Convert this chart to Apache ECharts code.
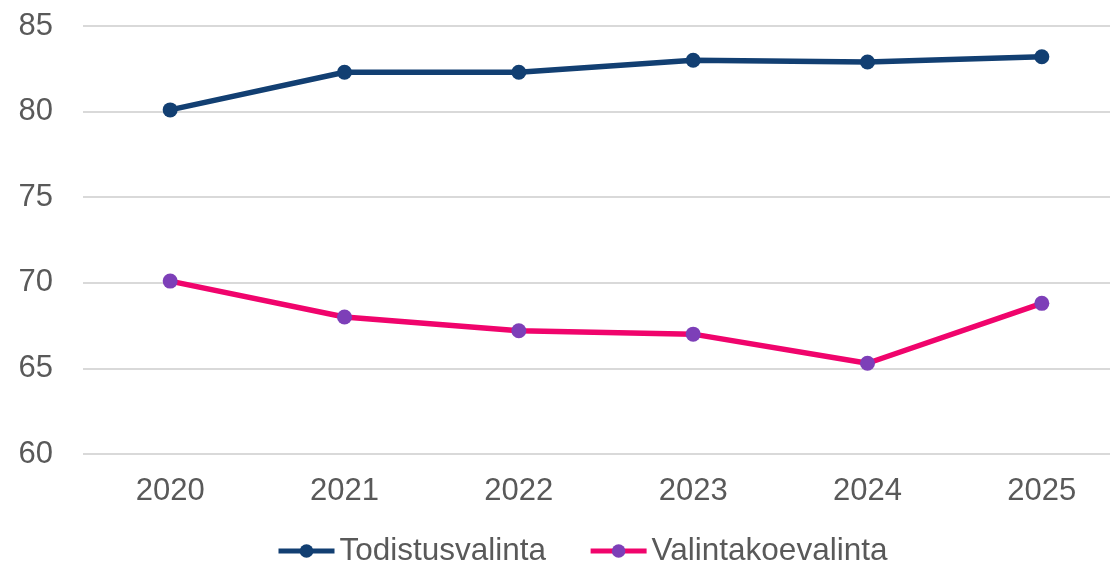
<!DOCTYPE html>
<html>
<head>
<meta charset="UTF-8" />
<title>Todistusvalinta / Valintakoevalinta</title>
<style type="text/css">
body,html{margin:0;padding:0;border:0;width:100%;height:100%;overflow:hidden;background:#fff;}
</style>
<script src="https://cdn.jsdelivr.net/npm/echarts@6/dist/echarts.min.js"></script>
</head>
<body>
<!-- plot area runs past the right edge of the window, as in the original -->
<div id="chartContainer" style="width:1129px;height:565px;"></div>
<script type="text/javascript">
var years = ['2020', '2021', '2022', '2023', '2024', '2025'];
var todistusvalinta = [80.1, 82.3, 82.3, 83.0, 82.9, 83.2];
var valintakoevalinta = [70.1, 68.0, 67.2, 67.0, 65.3, 68.8];
var seriesNames = ['Todistusvalinta', 'Valintakoevalinta'];

var textColor = '#595959';
var font = 'Liberation Sans, Arial, sans-serif';

var option = {
    animation: false,
    grid: { left: 83, right: 0, top: 26, bottom: 111, containLabel: false },
    legend: {
        data: seriesNames,
        left: 276, top: 535, padding: 0,
        itemWidth: 56, itemHeight: 17, itemGap: 42,
        lineStyle: { width: 5 },
        textStyle: { color: textColor, fontSize: 31.5, fontFamily: font }
    },
    xAxis: {
        type: 'category', boundaryGap: true,
        data: years,
        axisLine: { show: false },
        axisTick: { show: false },
        axisLabel: { color: textColor, fontSize: 31, fontFamily: font, margin: 22 }
    },
    yAxis: {
        type: 'value', min: 60, max: 85, interval: 5,
        axisLine: { show: false },
        axisTick: { show: false },
        axisLabel: { color: textColor, fontSize: 31, fontFamily: font, margin: 30 },
        splitLine: { lineStyle: { color: '#D9D9D9', width: 2 } }
    },
    series: [
        {
            name: seriesNames[0], type: 'line',
            data: todistusvalinta,
            symbol: 'circle', symbolSize: 15,
            lineStyle: { color: '#123F72', width: 5.5 },
            itemStyle: { color: '#123F72' }
        },
        {
            name: seriesNames[1], type: 'line',
            data: valintakoevalinta,
            symbol: 'circle', symbolSize: 15,
            lineStyle: { color: '#F0046C', width: 5.5 },
            itemStyle: { color: '#7D3FB8' }
        }
    ]
};

var chart = echarts.init(document.getElementById('chartContainer'));
chart.setOption(option);
</script>
</body>
</html>
